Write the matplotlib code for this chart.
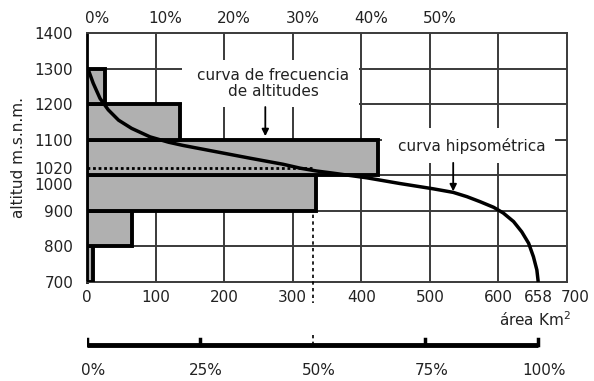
import matplotlib.pyplot as plt
from matplotlib import transforms
from matplotlib.patches import Rectangle

plt.rcParams['font.family'] = ['DejaVu Sans']

TXT = '#222222'
GRID = '#3a3a3a'

# altitude bands (lower limit, m) and area in each band (km2)
band_bottom = [700, 800, 900, 1000, 1100, 1200]
band_area = [9, 66, 334, 425, 136, 26]

# hypsometric curve: area above each altitude
curve_area = [0, 2, 9, 19, 31, 46, 65, 92, 119, 140, 189, 238, 286, 311,
              335, 359, 408, 456, 505, 534, 554, 573, 593, 607, 622, 634,
              644, 651, 656, 658]
curve_alt = [1300, 1296, 1259, 1216, 1184, 1155, 1132, 1108, 1093, 1084,
             1066, 1048, 1031, 1020, 1012, 1006, 993, 977, 962, 952, 940,
             926, 910, 894, 870, 841, 809, 771, 734, 700]

total_area = 658
median_area = 329
median_alt = 1020

x_ticks = [0, 100, 200, 300, 400, 500, 600, 658, 700]
y_ticks = [700, 800, 900, 1000, 1020, 1100, 1200, 1300, 1400]
top_pct = [0, 10, 20, 30, 40, 50]          # frequency scale, 10% per 100 km2
bottom_pct = [0, 25, 50, 75, 100]          # share of total area

fig = plt.figure(figsize=(5.94, 3.81), dpi=100)
ax = fig.add_axes([0.1465, 0.2598, 0.8081, 0.6535])
ax.set_xlim(0, 700)
ax.set_ylim(700, 1400)

# grid
for x in range(100, 700, 100):
    ax.axvline(x, color=GRID, lw=1.4, zorder=1)
for y in range(800, 1400, 100):
    ax.axhline(y, color=GRID, lw=1.4, zorder=1)
for side in ['top', 'right', 'bottom']:
    ax.spines[side].set_color(GRID)
    ax.spines[side].set_linewidth(1.4)
ax.spines['left'].set_linewidth(2)

# white boxes behind the two captions
ax.add_patch(Rectangle((139, 1192), 257, 132, fc='white', ec='none', zorder=2))
ax.add_patch(Rectangle((430, 1035), 253, 98, fc='white', ec='none', zorder=2))

# frequency histogram
ax.barh(band_bottom, band_area, height=100, align='edge', color='#b0b0b0',
        edgecolor='black', linewidth=2.8, zorder=4)

# median lines
ax.plot([0, median_area], [median_alt, median_alt], color='black',
        ls=(0, (1, 1)), lw=2, zorder=5)
ax.plot([median_area, median_area], [median_alt, 640], color='black',
        ls=(0, (2, 2)), lw=1.2, zorder=3, clip_on=False)

# hypsometric curve
ax.plot(curve_area, curve_alt, color='black', lw=2.5, zorder=6,
        solid_capstyle='butt', solid_joinstyle='round')

# captions and arrows
ax.text(272, 1258, 'curva de frecuencia\nde altitudes', ha='center',
        va='center', fontsize=11, color=TXT, linespacing=1.15, zorder=7)
ax.annotate('', xy=(260, 1110), xytext=(260, 1192),
            arrowprops=dict(arrowstyle='-|>', color='black', lw=1.3,
                            mutation_scale=10, shrinkA=0, shrinkB=0),
            zorder=7)
ax.text(561, 1083, 'curva hipsométrica', ha='center', va='center',
        fontsize=11, color=TXT, zorder=7)
ax.annotate('', xy=(534, 955), xytext=(534, 1035),
            arrowprops=dict(arrowstyle='-|>', color='black', lw=1.3,
                            mutation_scale=10, shrinkA=0, shrinkB=0),
            zorder=7)

# axes ticks
ax.set_xticks(x_ticks)
ax.set_xticklabels([str(v) for v in x_ticks])
ax.set_yticks(y_ticks)
ax.set_yticklabels([str(v) for v in y_ticks])
ax.tick_params(length=0, labelsize=11, labelcolor=TXT)
ax.tick_params(axis='x', pad=6)
ax.tick_params(axis='y', pad=10)
for lbl in ax.get_xticklabels():
    if lbl.get_text() == '700':
        lbl.set_transform(lbl.get_transform() +
                          transforms.ScaledTranslation(0.08, 0, fig.dpi_scale_trans))
for lbl in ax.get_yticklabels():
    if lbl.get_text() == '1000':
        lbl.set_transform(lbl.get_transform() +
                          transforms.ScaledTranslation(0, -0.09, fig.dpi_scale_trans))

ax.set_ylabel('altitud m.s.n.m.', fontsize=11, color=TXT, labelpad=6)
ax.text(0.933, -0.153, 'área Km$\\mathregular{^2}$', transform=ax.transAxes,
        ha='center', va='center', fontsize=11, color=TXT)

for p in top_pct:
    ax.annotate(f'{p}%', xy=(p * 10, 1), xycoords=('data', 'axes fraction'),
                xytext=(7, 5), textcoords='offset points', ha='center',
                va='bottom', fontsize=11, color=TXT)

# percentage scale of total area
ax2 = fig.add_axes([0.1465, 0.0, 0.8081, 0.1312])
ax2.set_xlim(0, 700)
ax2.set_ylim(0, 50)
ax2.axis('off')
ax2.plot([0, total_area], [36, 36], color='black', lw=3.5,
         solid_capstyle='butt')
for p in bottom_pct:
    x = total_area * p / 100
    if p == 50:
        ax2.plot([x, x], [36, 49], color='black', ls=(0, (2, 2)), lw=1.2)
    else:
        ax2.plot([x, x], [36, 42], color='black', lw=2.5)
    ax2.text(x + 9, 11, f'{p}%', ha='center', va='center', fontsize=11,
             color=TXT)

fig.savefig('out.png', dpi=100)
